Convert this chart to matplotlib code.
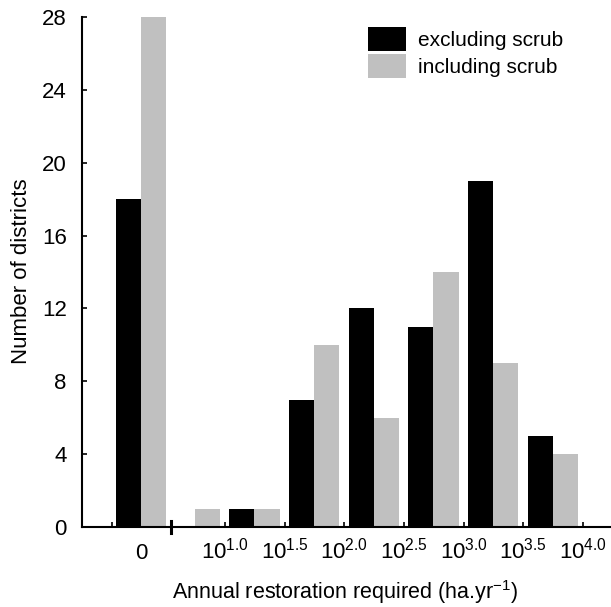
import matplotlib
matplotlib.use("Agg")
import matplotlib.pyplot as plt
import numpy as np

plt.rcParams['font.family'] = ['Liberation Sans', 'DejaVu Sans']
plt.rcParams['mathtext.fontset'] = 'custom'
plt.rcParams['mathtext.rm'] = 'Liberation Sans'
plt.rcParams['mathtext.it'] = 'Liberation Sans'

# counts per class: "0", below 10^1.0, then half-decade bins up to 10^4.0
excluding = [18, 0, 1, 7, 12, 11, 19, 5]
including = [28, 1, 1, 10, 6, 14, 9, 4]
bin_left = [0.1, 1, 2, 3, 4, 5, 6, 7]
tick_pos = [0.106, 2, 3, 4, 5, 6, 7, 8]
tick_labels = ['0', '1.0', '1.5', '2.0', '2.5', '3.0', '3.5', '4.0']

W, H = 611, 607
FS = 16
fig = plt.figure(figsize=(W / 100, H / 100), dpi=100)
ax = fig.add_axes([82 / W, 1 - 527 / H, 1 - 82 / W, (527 - 17) / H])

left = np.array(bin_left)
bw = 0.42
ax.bar(left + 0.285, excluding, width=bw, color='black', linewidth=0, label='excluding scrub')
ax.bar(left + 0.705, including, width=bw, color='#c0c0c0', linewidth=0, label='including scrub')

ax.set_xlim(-0.396, 8.47)
ax.set_ylim(0, 28)
ax.set_yticks(range(0, 29, 4))
ax.set_xticks(tick_pos)
ax.set_xticklabels([])
for s in ['top', 'right']:
    ax.spines[s].set_visible(False)
for s in ['left', 'bottom']:
    ax.spines[s].set_linewidth(1.5)
ax.tick_params(axis='both', direction='in', length=3.5, width=1.2, labelsize=FS)
ax.tick_params(axis='y', pad=11)

# x tick labels, baseline aligned; "0" sits under its bar pair
tr = matplotlib.transforms.blended_transform_factory(ax.transData, fig.transFigure)
label_pos = [bin_left[0] + 0.495] + tick_pos[1:]
for p, lab in zip(label_pos, tick_labels):
    txt = lab if lab == '0' else r'$\mathregular{10^{%s}}$' % lab
    ax.text(p, 1 - 559 / H, txt, transform=tr, ha='center', va='baseline', fontsize=FS)

# axis break mark
ax.plot([1.095, 1.095], [-0.35, 0.35], color='black', lw=2.2, clip_on=False)

fig.text(22 / W, 1 - 271 / H, 'Number of districts', rotation=90, ha='center', va='center', fontsize=FS)
fig.text(345 / W, 1 - 592 / H, r'Annual restoration required (ha.yr$^{\mathregular{-1}}$)',
         ha='center', va='center', fontsize=15.5)

ax.legend(loc='upper left', bbox_to_anchor=(368 / W, 1 - 27 / H), bbox_transform=fig.transFigure,
          frameon=False, borderpad=0, borderaxespad=0, fontsize=15,
          handlelength=1.83, handleheight=1.4, handletextpad=0.58, labelspacing=0.15)

fig.savefig('out.png', dpi=100)
